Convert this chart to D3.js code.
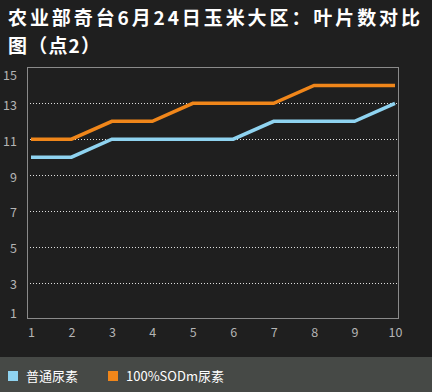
<!DOCTYPE html>
<html><head><meta charset="utf-8">
<script src="https://cdn.jsdelivr.net/npm/d3@7/dist/d3.min.js"></script>
<style>html,body{margin:0;padding:0;background:#1f1f1f;}svg{display:block;}</style>
</head><body>
<script>
const categories = [1,2,3,4,5,6,7,8,9,10];
const seriesNames = ["普通尿素","100%SODm尿素"];
const seriesColors = ["#8fd3f0","#f0861a"];
const normalUrea = [10,10,11,11,11,11,12,12,12,13];
const sodUrea = [11,11,12,12,13,13,13,14,14,14];
const yTicks = [1,3,5,7,9,11,13,15];
const titleLines = ["农业部奇台6月24日玉米大区：叶片数对比","图（点2）"];

const W=432,H=392;
const svg=d3.select("body").append("svg").attr("width",W).attr("height",H);
svg.append("rect").attr("width",W).attr("height",H).attr("fill","#1f1f1f");

const font="'Noto Sans CJK SC','Noto Sans',sans-serif";
const titleLen=[412,92];
svg.selectAll("text.title").data(titleLines).join("text")
  .attr("x",8).attr("y",(d,i)=>25+i*28)
  .attr("fill","#fff").attr("font-family",font).attr("font-weight","bold")
  .attr("font-size",19).attr("textLength",(d,i)=>titleLen[i]).attr("lengthAdjust","spacing").text(d=>d);

const frame={l:27,r:398,t:67,b:318};
const x=d3.scaleLinear().domain([1,10]).range([31,395]);
const y=d3.scaleLinear().domain([1,15]).range([318.5,67.5]);

// gridlines
svg.append("g").selectAll("line").data(yTicks.filter(v=>v>1&&v<15)).join("line")
  .attr("x1",frame.l).attr("x2",frame.r).attr("y1",d=>Math.round(y(d))+0.5).attr("y2",d=>Math.round(y(d))+0.5)
  .attr("stroke","#e0e0e0").attr("stroke-width",1).attr("stroke-dasharray","1,2");

svg.append("rect").attr("x",frame.l+0.5).attr("y",frame.t+0.5).attr("width",frame.r-frame.l).attr("height",frame.b-frame.t)
  .attr("fill","none").attr("stroke","#8a8a8a").attr("stroke-width",1);

// y axis (labels kept inside the frame's vertical extent)
const ya=svg.append("g").attr("transform",`translate(${frame.l},0)`)
  .call(d3.axisLeft(y).tickValues(yTicks).tickSize(0).tickPadding(10));
ya.select(".domain").remove();
ya.selectAll(".tick").attr("transform",d=>`translate(0,${Math.max(76,Math.min(314,y(d)+2.5))})`);
ya.selectAll("text").attr("fill","#b4b4b4").attr("font-family",font).attr("font-size",12.5);

// x axis
const xa=svg.append("g").attr("transform",`translate(0,${frame.b})`)
  .call(d3.axisBottom(x).tickValues(categories).tickSize(0).tickPadding(10).tickFormat(d3.format("d")));
xa.select(".domain").remove();
xa.selectAll("text").attr("fill","#b4b4b4").attr("font-family",font).attr("font-size",12.5);

const line=d3.line().x((d,i)=>x(categories[i])).y(d=>y(d));
[normalUrea,sodUrea].forEach((s,k)=>{
  svg.append("path").attr("d",line(s)).attr("fill","none")
    .attr("stroke",seriesColors[k]).attr("stroke-width",3.5).attr("stroke-linejoin","miter");
});

// legend band
svg.append("rect").attr("x",0).attr("y",357).attr("width",W).attr("height",H-357).attr("fill","#464946");
const lx=[8,108];
const lg=svg.append("g").selectAll("g").data(seriesNames).join("g")
  .attr("transform",(d,i)=>`translate(${lx[i]},371)`);
lg.append("rect").attr("width",10).attr("height",10).attr("fill",(d,i)=>seriesColors[i]);
lg.append("text").attr("x",18).attr("y",10).attr("fill","#fff").attr("font-family",font)
  .attr("font-size",13).text(d=>d);
</script>
</body></html>
